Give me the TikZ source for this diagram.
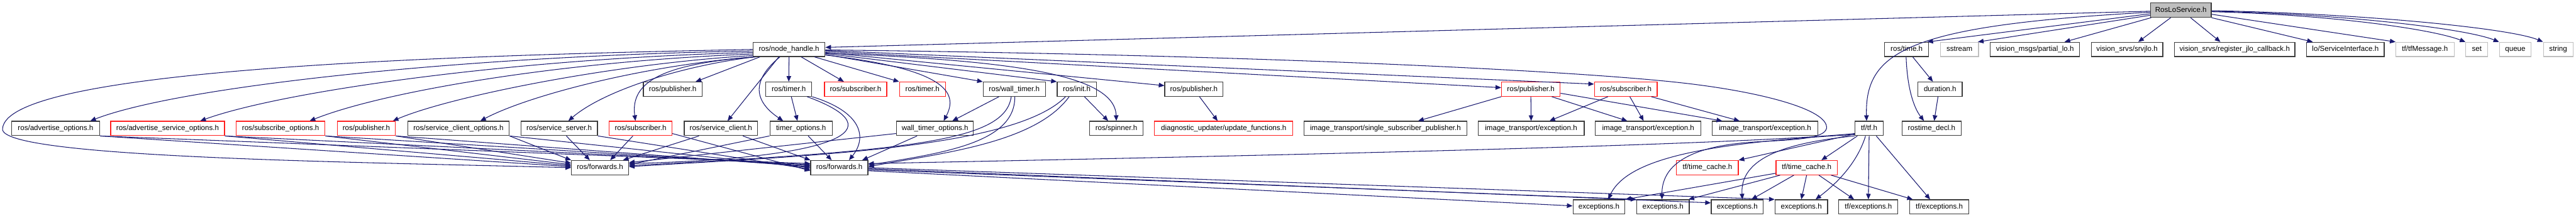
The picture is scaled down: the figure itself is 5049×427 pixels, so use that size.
\documentclass[tikz,border=0pt]{standalone}
\usepackage{fontspec}
\setmainfont{Liberation Sans}
\usetikzlibrary{arrows.meta}
\definecolor{edgec}{HTML}{191970}
\definecolor{boxc}{HTML}{3C3C3C}
\definecolor{redc}{HTML}{FF2020}
\definecolor{grayc}{HTML}{BFBFBF}
\begin{document}
\begin{tikzpicture}[x=1pt,y=-1pt,
  bx/.style={draw=boxc, line width=1.5pt, minimum height=28pt, inner sep=0pt,
    text height=10.5pt, text depth=3pt, font=\fontsize{14.3}{16}\selectfont},
  rbx/.style={bx, draw=redc},
  gbx/.style={bx, draw=grayc},
  e/.style={draw=edgec, line width=1.3pt, -{Triangle[length=11pt,width=9pt]}}]
\useasboundingbox (0,0) rectangle (5049,427);
% row 0
\node[bx, fill=grayc, minimum width=119] (R) at (4274.5,20) {RosLoService.h};
% row 1
\node[bx, minimum width=141] (nh) at (1546.5,97) {ros/node\_handle.h};
\node[bx, minimum width=86] (time) at (3737,97) {ros/time.h};
\node[gbx, minimum width=75] (sstream) at (3840.5,97) {sstream};
\node[bx, minimum width=175] (partial) at (3988.5,97) {vision\_msgs/partial\_lo.h};
\node[bx, minimum width=140] (srvjlo) at (4169,97) {vision\_srvs/srvjlo.h};
\node[bx, minimum width=236] (reg) at (4380,97) {vision\_srvs/register\_jlo\_callback.h};
\node[bx, minimum width=152] (si) at (4597,97) {lo/ServiceInterface.h};
\node[gbx, minimum width=114] (tfm) at (4753,97) {tf/tfMessage.h};
\node[gbx, minimum width=43] (set) at (4854.5,97) {set};
\node[gbx, minimum width=62] (queue) at (4930,97) {queue};
\node[gbx, minimum width=58] (string) at (5014,97) {string};
% row 2
\node[bx, minimum width=115] (P1) at (1318.5,175) {ros/publisher.h};
\node[bx, minimum width=90] (tb) at (1546,175) {ros/timer.h};
\node[rbx, minimum width=122] (SR2) at (1677,175) {ros/subscriber.h};
\node[rbx, minimum width=90] (tr) at (1808,175) {ros/timer.h};
\node[bx, minimum width=122] (wt) at (1988,175) {ros/wall\_timer.h};
\node[bx, minimum width=77] (init) at (2110.5,175) {ros/init.h};
\node[bx, minimum width=114] (P3) at (2340,175) {ros/publisher.h};
\node[rbx, minimum width=115] (PR2) at (3000.5,175) {ros/publisher.h};
\node[rbx, minimum width=123] (SR2r) at (3186.5,175) {ros/subscriber.h};
\node[bx, minimum width=87] (dur) at (3802.5,175) {duration.h};
% row 3
\node[bx, minimum width=172] (advo) at (109,252) {ros/advertise\_options.h};
\node[rbx, minimum width=223] (advs) at (328.5,252) {ros/advertise\_service\_options.h};
\node[rbx, minimum width=174] (subo) at (550,252) {ros/subscribe\_options.h};
\node[rbx, minimum width=114] (PR3) at (718,252) {ros/publisher.h};
\node[bx, minimum width=199] (sco) at (898.5,252) {ros/service\_client\_options.h};
\node[bx, minimum width=150] (ss) at (1096,252) {ros/service\_server.h};
\node[rbx, minimum width=123] (SR3) at (1255.5,252) {ros/subscriber.h};
\node[bx, minimum width=144] (sc) at (1413,252) {ros/service\_client.h};
\node[bx, minimum width=122] (to) at (1570,252) {timer\_options.h};
\node[bx, minimum width=151] (wto) at (1832.5,252) {wall\_timer\_options.h};
\node[bx, minimum width=104] (spin) at (2188,252) {ros/spinner.h};
\node[rbx, minimum width=271] (diag) at (2398.5,252) {diagnostic\_updater/update\_functions.h};
\node[bx, minimum width=319] (ssp) at (2715.5,252) {image\_transport/single\_subscriber\_publisher.h};
\node[bx, minimum width=208] (ite1) at (3001,252) {image\_transport/exception.h};
\node[bx, minimum width=207] (ite2) at (3230.5,252) {image\_transport/exception.h};
\node[bx, minimum width=207] (ite3) at (3459.5,252) {image\_transport/exception.h};
\node[bx, minimum width=55] (tf) at (3663.5,252) {tf/tf.h};
\node[bx, minimum width=116] (rtd) at (3786,252) {rostime\_decl.h};
% row 4
\node[bx, minimum width=112] (fw1) at (1176,329) {ros/forwards.h};
\node[bx, minimum width=112] (fw2) at (1645,329) {ros/forwards.h};
\node[rbx, minimum width=121] (tc1) at (3346.5,329) {tf/time\_cache.h};
\node[rbx, minimum width=120] (tc2) at (3541,329) {tf/time\_cache.h};
% row 5
\node[bx, minimum width=102] (ex1) at (3134,406) {exceptions.h};
\node[bx, minimum width=103] (ex2) at (3259.5,406) {exceptions.h};
\node[bx, minimum width=102] (ex3) at (3405,406) {exceptions.h};
\node[bx, minimum width=103] (ex4) at (3530.5,406) {exceptions.h};
\node[bx, minimum width=116] (tfex1) at (3662,406) {tf/exceptions.h};
\node[bx, minimum width=116] (tfex2) at (3801,406) {tf/exceptions.h};

% ---- edges from RosLoService.h
\draw[e] ([yshift=-2pt]R.west) -- ([yshift=4pt]nh.east);
\draw[e] ([yshift=-4pt]R.west) .. controls (3740,50) and (3655,100) .. ([xshift=-5pt]tf.north);
\draw[e] ([yshift=-7pt]R.west) -- ([xshift=-3pt]time.north east);
\draw[e] ([yshift=-10pt]R.west) -- ([xshift=-2pt]sstream.north east);
\draw[e] ([xshift=2pt]R.south west) -- ([xshift=58pt]partial.north);
\draw[e] ([xshift=-20pt]R.south) -- ([xshift=22pt]srvjlo.north);
\draw[e] ([xshift=19pt]R.south) -- ([xshift=-28pt]reg.north);
\draw[e] (R.south east) -- ([xshift=-64pt]si.north);
\draw[e] ([yshift=-8pt]R.east) -- (tfm.north west);
\draw[e] ([yshift=-3pt]R.east) .. controls (4550,28) and (4760,55) .. (set.north west);
\draw[e] ([yshift=-2pt]R.east) .. controls (4580,27) and (4830,55) .. (queue.north west);
\draw[e] ([yshift=-1pt]R.east) .. controls (4620,26) and (4920,55) .. (string.north west);
% ---- ros/time.h
\draw[e] ([xshift=12pt]time.south) -- ([xshift=-14pt]dur.north);
\draw[e] ([xshift=-1pt]time.south) .. controls (3738,170) and (3750,210) .. ([xshift=-15pt]rtd.north);
\draw[e] ([xshift=-4pt]dur.south) -- ([xshift=5pt]rtd.north);
% ---- ros/node_handle.h
\draw[e] (nh.west) .. controls (800,110) and (10,140) .. (5,253) .. controls (0,310) and (700,318) .. (fw1.west);
\draw[e] ([yshift=-3pt]nh.west) .. controls (900,110) and (350,170) .. ([xshift=68pt]advo.north);
\draw[e] ([yshift=-6pt]nh.west) .. controls (1000,115) and (550,180) .. ([xshift=64pt]advs.north);
\draw[e] ([yshift=-9pt]nh.west) .. controls (1100,120) and (750,180) .. ([xshift=57pt]subo.north);
\draw[e] ([yshift=-12pt]nh.west) .. controls (1200,125) and (880,190) .. ([xshift=52pt]PR3.north);
\draw[e] (nh.south west) .. controls (1250,130) and (1030,190) .. ([xshift=43pt]sco.north);
\draw[e] ([xshift=3pt]nh.south west) .. controls (1330,130) and (1180,180) .. ([xshift=18pt]ss.north);
\draw[e] ([xshift=6pt]nh.south west) .. controls (1300,125) and (1235,160) .. ([xshift=-10pt]SR3.north);
\draw[e] ([xshift=14pt]nh.south west) -- ([xshift=45pt]P1.north);
\draw[e] ([xshift=-20pt]nh.south) -- ([xshift=13pt]sc.north);
\draw[e] ([xshift=-18pt]nh.south) .. controls (1470,160) and (1480,200) .. ([xshift=-35pt]to.north);
\draw[e] (nh.south) -- (tb.north);
\draw[e] ([xshift=24pt]nh.south) -- ([xshift=-23pt]SR2.north);
\draw[e] ([xshift=50pt]nh.south) -- (tr.north west);
\draw[e] ([yshift=-11pt]nh.east) .. controls (1850,135) and (1880,180) .. ([xshift=17pt]wto.north);
\draw[e] ([yshift=-10pt]nh.east) -- (wt.north west);
\draw[e] ([yshift=-8pt]nh.east) -- (init.north west);
\draw[e] ([yshift=-7pt]nh.east) .. controls (1950,118) and (2185,140) .. (spin.north);
\draw[e] ([yshift=-6pt]nh.east) -- ([yshift=7pt]P3.west);
\draw[e] ([yshift=-4pt]nh.east) -- ([yshift=3pt]PR2.west);
\draw[e] ([yshift=-2pt]nh.east) -- ([yshift=10pt]SR2r.west);
\draw[e] ([yshift=-1pt]nh.east) .. controls (2500,108) and (3100,140) .. (3300,163)
  .. controls (3450,180) and (3585,215) .. (3580,252)
  .. controls (3575,272) and (3520,274) .. (3450,278)
  .. controls (3300,285) and (3257,330) .. ([xshift=-2pt]ex2.north);
% ---- row 3 / row 2 to ros/forwards.h
\draw[e] (advo.south east) -- ([yshift=2pt]fw1.west);
\draw[e] (advo.south east) -- ([yshift=8pt]fw2.west);
\draw[e] (advs.south east) -- ([yshift=4pt]fw1.west);
\draw[e] (advs.south east) -- ([yshift=6pt]fw2.west);
\draw[e] (subo.south east) -- ([yshift=6pt]fw1.west);
\draw[e] (subo.south east) -- ([yshift=4pt]fw2.west);
\draw[e] (PR3.south east) -- ([yshift=9pt]fw1.west);
\draw[e] (PR3.south east) -- ([yshift=2pt]fw2.west);
\draw[e] (sco.south east) -- (fw1.north west);
\draw[e] (sco.south east) -- (fw2.west);
\draw[e] ([xshift=14pt]ss.south) -- ([xshift=-20pt]fw1.north);
\draw[e] (ss.south east) -- ([yshift=-3pt]fw2.west);
\draw[e] ([xshift=-15pt]SR3.south) -- ([xshift=20pt]fw1.north);
\draw[e] ([yshift=-10pt]SR3.east) -- ([yshift=-6pt]fw2.west);
\draw[e] ([xshift=-43pt]sc.south) -- ([xshift=45pt]fw1.north);
\draw[e] ([xshift=43pt]sc.south) -- (fw2.north west);
\draw[e] (to.south west) -- ([yshift=6pt]fw1.east);
\draw[e] ([xshift=14pt]to.south) -- ([xshift=-15pt]fw2.north);
\draw[e] ([xshift=5pt]tb.south) -- ([xshift=-7pt]to.north);
\draw[e] ([xshift=36pt]tb.south) .. controls (1760,255) and (1640,310) .. ([yshift=8pt]fw1.east);
\draw[e] (tb.south east) .. controls (1690,220) and (1700,270) .. ([xshift=19pt]fw2.north);
\draw[e] ([yshift=-10pt]wto.west) -- ([yshift=10pt]fw1.east);
\draw[e] ([xshift=-35pt]wto.south) -- ([xshift=45pt]fw2.north);
\draw[e] ([xshift=-30pt]wt.south) -- ([xshift=34pt]wto.north);
\draw[e] ([xshift=-6pt]wt.south) .. controls (1970,275) and (1800,295) .. ([yshift=4pt]fw1.east);
\draw[e] ([xshift=1pt]wt.south) .. controls (1990,280) and (1850,300) .. ([yshift=5pt]fw2.east);
\draw[e] ([xshift=-22pt]init.south) .. controls (1990,290) and (1600,305) .. ([yshift=2pt]fw1.east);
\draw[e] ([xshift=-15pt]init.south) .. controls (2030,280) and (1850,300) .. ([yshift=2pt]fw2.east);
\draw[e] ([xshift=15pt]init.south) -- ([xshift=-16pt]spin.north);
% ---- publishers / subscribers
\draw[e] ([xshift=11pt]P3.south) -- ([xshift=-12pt]diag.north);
\draw[e] (PR2.south west) -- ([xshift=64pt]ssp.north);
\draw[e] (PR2.south) -- (ite1.north);
\draw[e] ([xshift=41pt]PR2.south) -- ([xshift=-41pt]ite2.north);
\draw[e] ([yshift=-8pt]PR2.east) -- ([xshift=-84pt]ite3.north);
\draw[e] ([xshift=-35pt]SR2r.south) -- ([xshift=36pt]ite1.north);
\draw[e] ([xshift=8pt]SR2r.south) -- ([xshift=-9pt]ite2.north);
\draw[e] ([xshift=50pt]SR2r.south) -- ([xshift=-50pt]ite3.north);
% ---- tf/tf.h
\draw[e] ([yshift=-10pt]tf.west) .. controls (3400,285) and (2500,305) .. ([yshift=8pt]fw2.east);
\draw[e] ([yshift=-11pt]tf.west) -- (tc1.north east);
\draw[e] ([yshift=-12pt]tf.west) .. controls (3350,280) and (3190,310) .. ([xshift=18pt]ex1.north);
\draw[e] (tf.south west) .. controls (3500,280) and (3410,310) .. ([xshift=10pt]ex3.north);
\draw[e] ([xshift=-7pt]tf.south) .. controls (3640,320) and (3600,360) .. ([xshift=28pt]ex4.north);
\draw[e] ([xshift=-23pt]tf.south) -- ([xshift=29pt]tc2.north);
\draw[e] (tf.south) -- (tfex1.north);
\draw[e] ([xshift=14pt]tf.south) -- ([xshift=-18pt]tfex2.north);
% ---- tf/time_cache.h
\draw[e] ([yshift=-11pt]tc2.west) -- (ex1.north east);
\draw[e] ([xshift=-52pt]tc2.south) -- ([xshift=50pt]ex2.north);
\draw[e] ([xshift=-25pt]tc2.south) -- ([xshift=28pt]ex3.north);
\draw[e] (tc2.south) -- (ex4.north);
\draw[e] ([xshift=24pt]tc2.south) -- ([xshift=-28pt]tfex1.north);
\draw[e] ([xshift=48pt]tc2.south) -- ([xshift=-52pt]tfex2.north);
% ---- ros/forwards.h to exceptions.h
\draw[e] ([yshift=-6pt]fw2.east) -- ([yshift=2pt]ex1.west);
\draw[e] ([yshift=-4pt]fw2.east) -- (ex2.north west);
\draw[e] ([yshift=-2pt]fw2.east) -- ([yshift=8pt]ex3.west);
\draw[e] (fw2.east) -- (ex4.north west);
\end{tikzpicture}
\end{document}
